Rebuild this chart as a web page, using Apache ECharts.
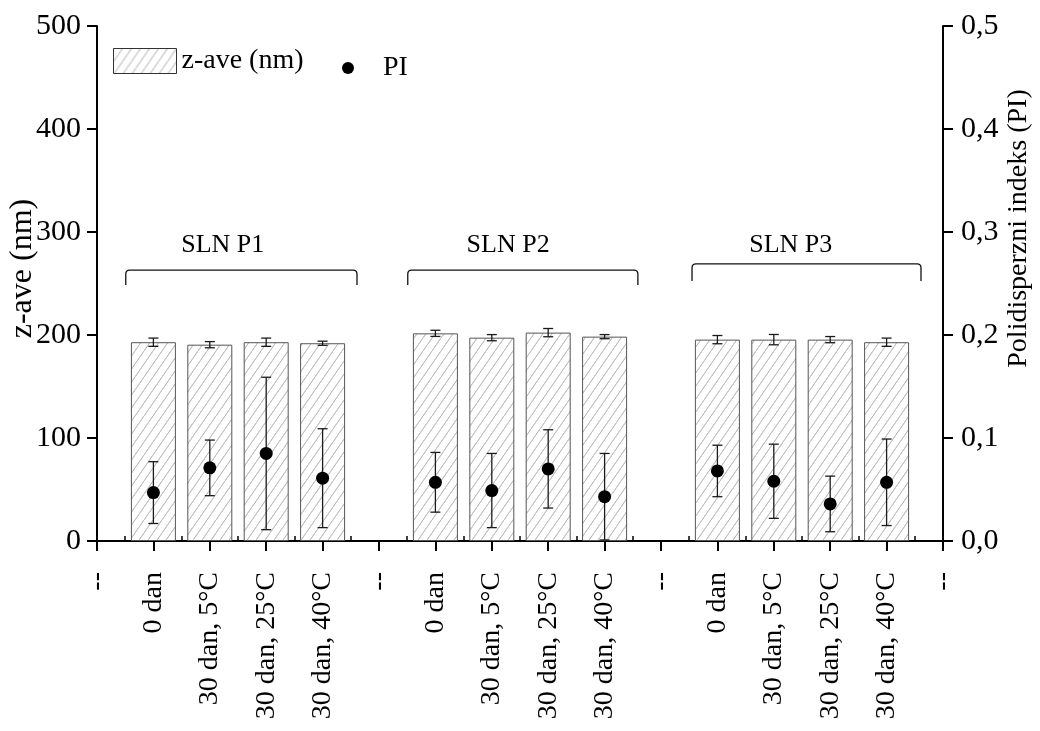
<!DOCTYPE html>
<html>
<head>
<meta charset="utf-8">
<script src="https://cdn.jsdelivr.net/npm/echarts@6/dist/echarts.min.js"></script>
<style>html,body{margin:0;padding:0;background:#fff}#c{width:1040px;height:731px}</style>
</head>
<body>
<div id="c"></div>
<script>
var categories = ['--','0 dan','30 dan, 5°C','30 dan, 25°C','30 dan, 40°C','--','0 dan','30 dan, 5°C','30 dan, 25°C','30 dan, 40°C','--','0 dan','30 dan, 5°C','30 dan, 25°C','30 dan, 40°C','--'];
var zave = ['-',193,190.6,193,192,'-',201.6,197.4,202.3,198.4,'-',195.5,195.5,195.5,193,'-'];
var zaveErr = [null,4,3,4,2,null,3,3,4,2,null,4,5,3,4,null];
var pi = ['-',0.047,0.071,0.085,0.061,'-',0.057,0.049,0.070,0.043,'-',0.068,0.058,0.036,0.057,'-'];
var piErr = [null,0.030,0.027,0.074,0.048,null,0.029,0.036,0.038,0.042,null,0.025,0.036,0.027,0.042,null];
var leftTicks = [0,100,200,300,400,500];
var rightTicks = ['0,0','0,1','0,2','0,3','0,4','0,5'];
var groups = ['SLN P1','SLN P2','SLN P3'];
var bracketStart = [0.51,5.51,10.55];
var bracketEnd = [4.61,9.59,14.61];
var bracketTop = [263,263,269];
var bracketFoot = [248.5,248.5,252.5];
var groupLabelX = [2.23,7.29,12.3];
var groupLabelY = 287;

var FONT = "'Liberation Serif', 'Times New Roman', Tinos, serif";

// hatch pattern
var tile = document.createElement('canvas');
tile.width = 9; tile.height = 13;
var g = tile.getContext('2d');
g.fillStyle = '#fff'; g.fillRect(0,0,9,13);
g.strokeStyle = '#c0c0c0'; g.lineWidth = 1;
g.beginPath();
g.moveTo(-9,26); g.lineTo(9,0);
g.moveTo(0,13); g.lineTo(9,0);
g.moveTo(0,26); g.lineTo(18,0);
g.moveTo(-9,13); g.lineTo(0,0);
g.stroke();
var hatch = {image: tile, repeat: 'repeat'};

function errData(vals, errs){
  var out = [];
  for (var i=0;i<vals.length;i++){
    if (errs[i]==null) continue;
    out.push([i, vals[i]-errs[i], vals[i]+errs[i]]);
  }
  return out;
}
function errRender(params, api){
  var lo = api.coord([api.value(0), api.value(1)]);
  var hi = api.coord([api.value(0), api.value(2)]);
  var h = 5;
  var st = {stroke:'#1a1a1a', lineWidth:1.3};
  return {type:'group', children:[
    {type:'line', shape:{x1:lo[0],y1:lo[1],x2:hi[0],y2:hi[1]}, style:st},
    {type:'line', shape:{x1:lo[0]-h,y1:lo[1],x2:lo[0]+h,y2:lo[1]}, style:st},
    {type:'line', shape:{x1:hi[0]-h,y1:hi[1],x2:hi[0]+h,y2:hi[1]}, style:st}
  ]};
}
var bracketData = groups.map(function(n,i){return [bracketStart[i], bracketEnd[i], bracketTop[i], bracketFoot[i], groupLabelX[i], groupLabelY];});
function bracketRender(params, api){
  var a = api.coord([api.value(0), api.value(2)]);
  var b = api.coord([api.value(1), api.value(2)]);
  var f = api.coord([api.value(0), api.value(3)]);
  var t = api.coord([api.value(4), api.value(5)]);
  var r = 4;
  var y0 = a[1], yf = f[1];
  var d = 'M'+a[0]+','+yf+' L'+a[0]+','+(y0+r)+' Q'+a[0]+','+y0+' '+(a[0]+r)+','+y0+
          ' L'+(b[0]-r)+','+y0+' Q'+b[0]+','+y0+' '+b[0]+','+(y0+r)+' L'+b[0]+','+yf;
  return {type:'group', children:[
    {type:'path', shape:{pathData:d}, style:{stroke:'#111', lineWidth:1.3, fill:null}},
    {type:'text', x:t[0], y:t[1], style:{text:groups[params.dataIndex], fontFamily:FONT, fontSize:26, fill:'#000', align:'center', verticalAlign:'middle'}}
  ]};
}

var chart = echarts.init(document.getElementById('c'));
chart.setOption({
  animation:false,
  backgroundColor:'#fff',
  textStyle:{fontFamily:FONT},
  grid:{left:97,right:97,top:26,bottom:190,containLabel:false,outerBoundsMode:'none'},
  legend:[
    {data:[{name:'z-ave (nm)', icon:'rect', itemStyle:{borderColor:'#333',borderWidth:1}}], left:108, top:42, itemWidth:63, itemHeight:25, itemGap:10,
     textStyle:{fontFamily:FONT, fontSize:28, color:'#000'}},
    {data:[{name:'PI', icon:'circle', itemStyle:{color:'#000', opacity:1}}], left:337, top:49, itemWidth:12, itemHeight:12,
     textStyle:{fontFamily:FONT, fontSize:28, color:'#000', padding:[0,0,0,24]}}
  ],
  xAxis:[
    {type:'category', data:categories, boundaryGap:false,
     axisLine:{lineStyle:{color:'#000', width:2}},
     axisTick:{show:true, interval:0, length:10, lineStyle:{color:'#000', width:2}},
     axisLabel:{interval:0, rotate:90, margin:31, fontFamily:FONT, fontSize:28, color:'#000'},
     splitLine:{show:false}},
    {type:'value', min:0, max:15, interval:1, position:'bottom',
     axisLine:{show:false}, axisLabel:{show:false}, splitLine:{show:false},
     axisTick:{show:true, inside:true, length:0, lineStyle:{width:0}},
     minorTick:{show:true, splitNumber:2, length:5, lineStyle:{color:'#000', width:1.5}}}
  ],
  yAxis:[
    {type:'value', min:0, max:500, interval:100, position:'left',
     name:'z-ave (nm)', nameLocation:'middle', nameRotate:90, nameGap:58, nameMoveOverlap:false,
     nameTextStyle:{fontFamily:FONT, fontSize:32, color:'#000', padding:[0,0,0,30]},
     axisLine:{show:true, lineStyle:{color:'#000', width:2}},
     axisTick:{show:true, length:10, lineStyle:{color:'#000', width:2}},
     axisLabel:{margin:16, fontFamily:FONT, fontSize:30, color:'#000',
       formatter:function(v){var i=leftTicks.indexOf(v);return i<0?'':String(leftTicks[i]);}},
     splitLine:{show:false}},
    {type:'value', min:0, max:0.5, interval:0.1, position:'right',
     name:'Polidisperzni indeks (PI)', nameLocation:'middle', nameRotate:90, nameGap:62, nameMoveOverlap:false,
     nameTextStyle:{fontFamily:FONT, fontSize:28, color:'#000', padding:[0,0,0,110]},
     axisLine:{show:true, lineStyle:{color:'#000', width:2}},
     axisTick:{show:true, length:10, lineStyle:{color:'#000', width:2}},
     minorTick:{show:false},
     axisLabel:{margin:18, fontFamily:FONT, fontSize:30, color:'#000',
       formatter:function(v){var i=Math.round(v*10);return rightTicks[i]||'';}},
     splitLine:{show:false}}
  ],
  series:[
    {name:'z-ave (nm)', type:'bar', data:zave, barWidth:45, xAxisIndex:0, yAxisIndex:0,
     itemStyle:{color:hatch, borderColor:'#555', borderWidth:1}, z:2},
    {name:'zErr', type:'custom', data:errData(zave, zaveErr), xAxisIndex:0, yAxisIndex:0,
     encode:{x:0,y:[1,2]}, renderItem:errRender, z:5, silent:true},
    {name:'PI', type:'scatter', data:pi, xAxisIndex:0, yAxisIndex:1, symbol:'circle', symbolSize:13,
     itemStyle:{color:'#000', opacity:1}, z:6},
    {name:'piErr', type:'custom', data:errData(pi, piErr), xAxisIndex:0, yAxisIndex:1,
     encode:{x:0,y:[1,2]}, renderItem:errRender, z:5, silent:true},
    {name:'brackets', type:'custom', data:bracketData, xAxisIndex:1, yAxisIndex:0,
     encode:{x:[0,1,4], y:[2,3,5]}, renderItem:bracketRender, z:7, silent:true}
  ]
});
</script>
</body>
</html>
